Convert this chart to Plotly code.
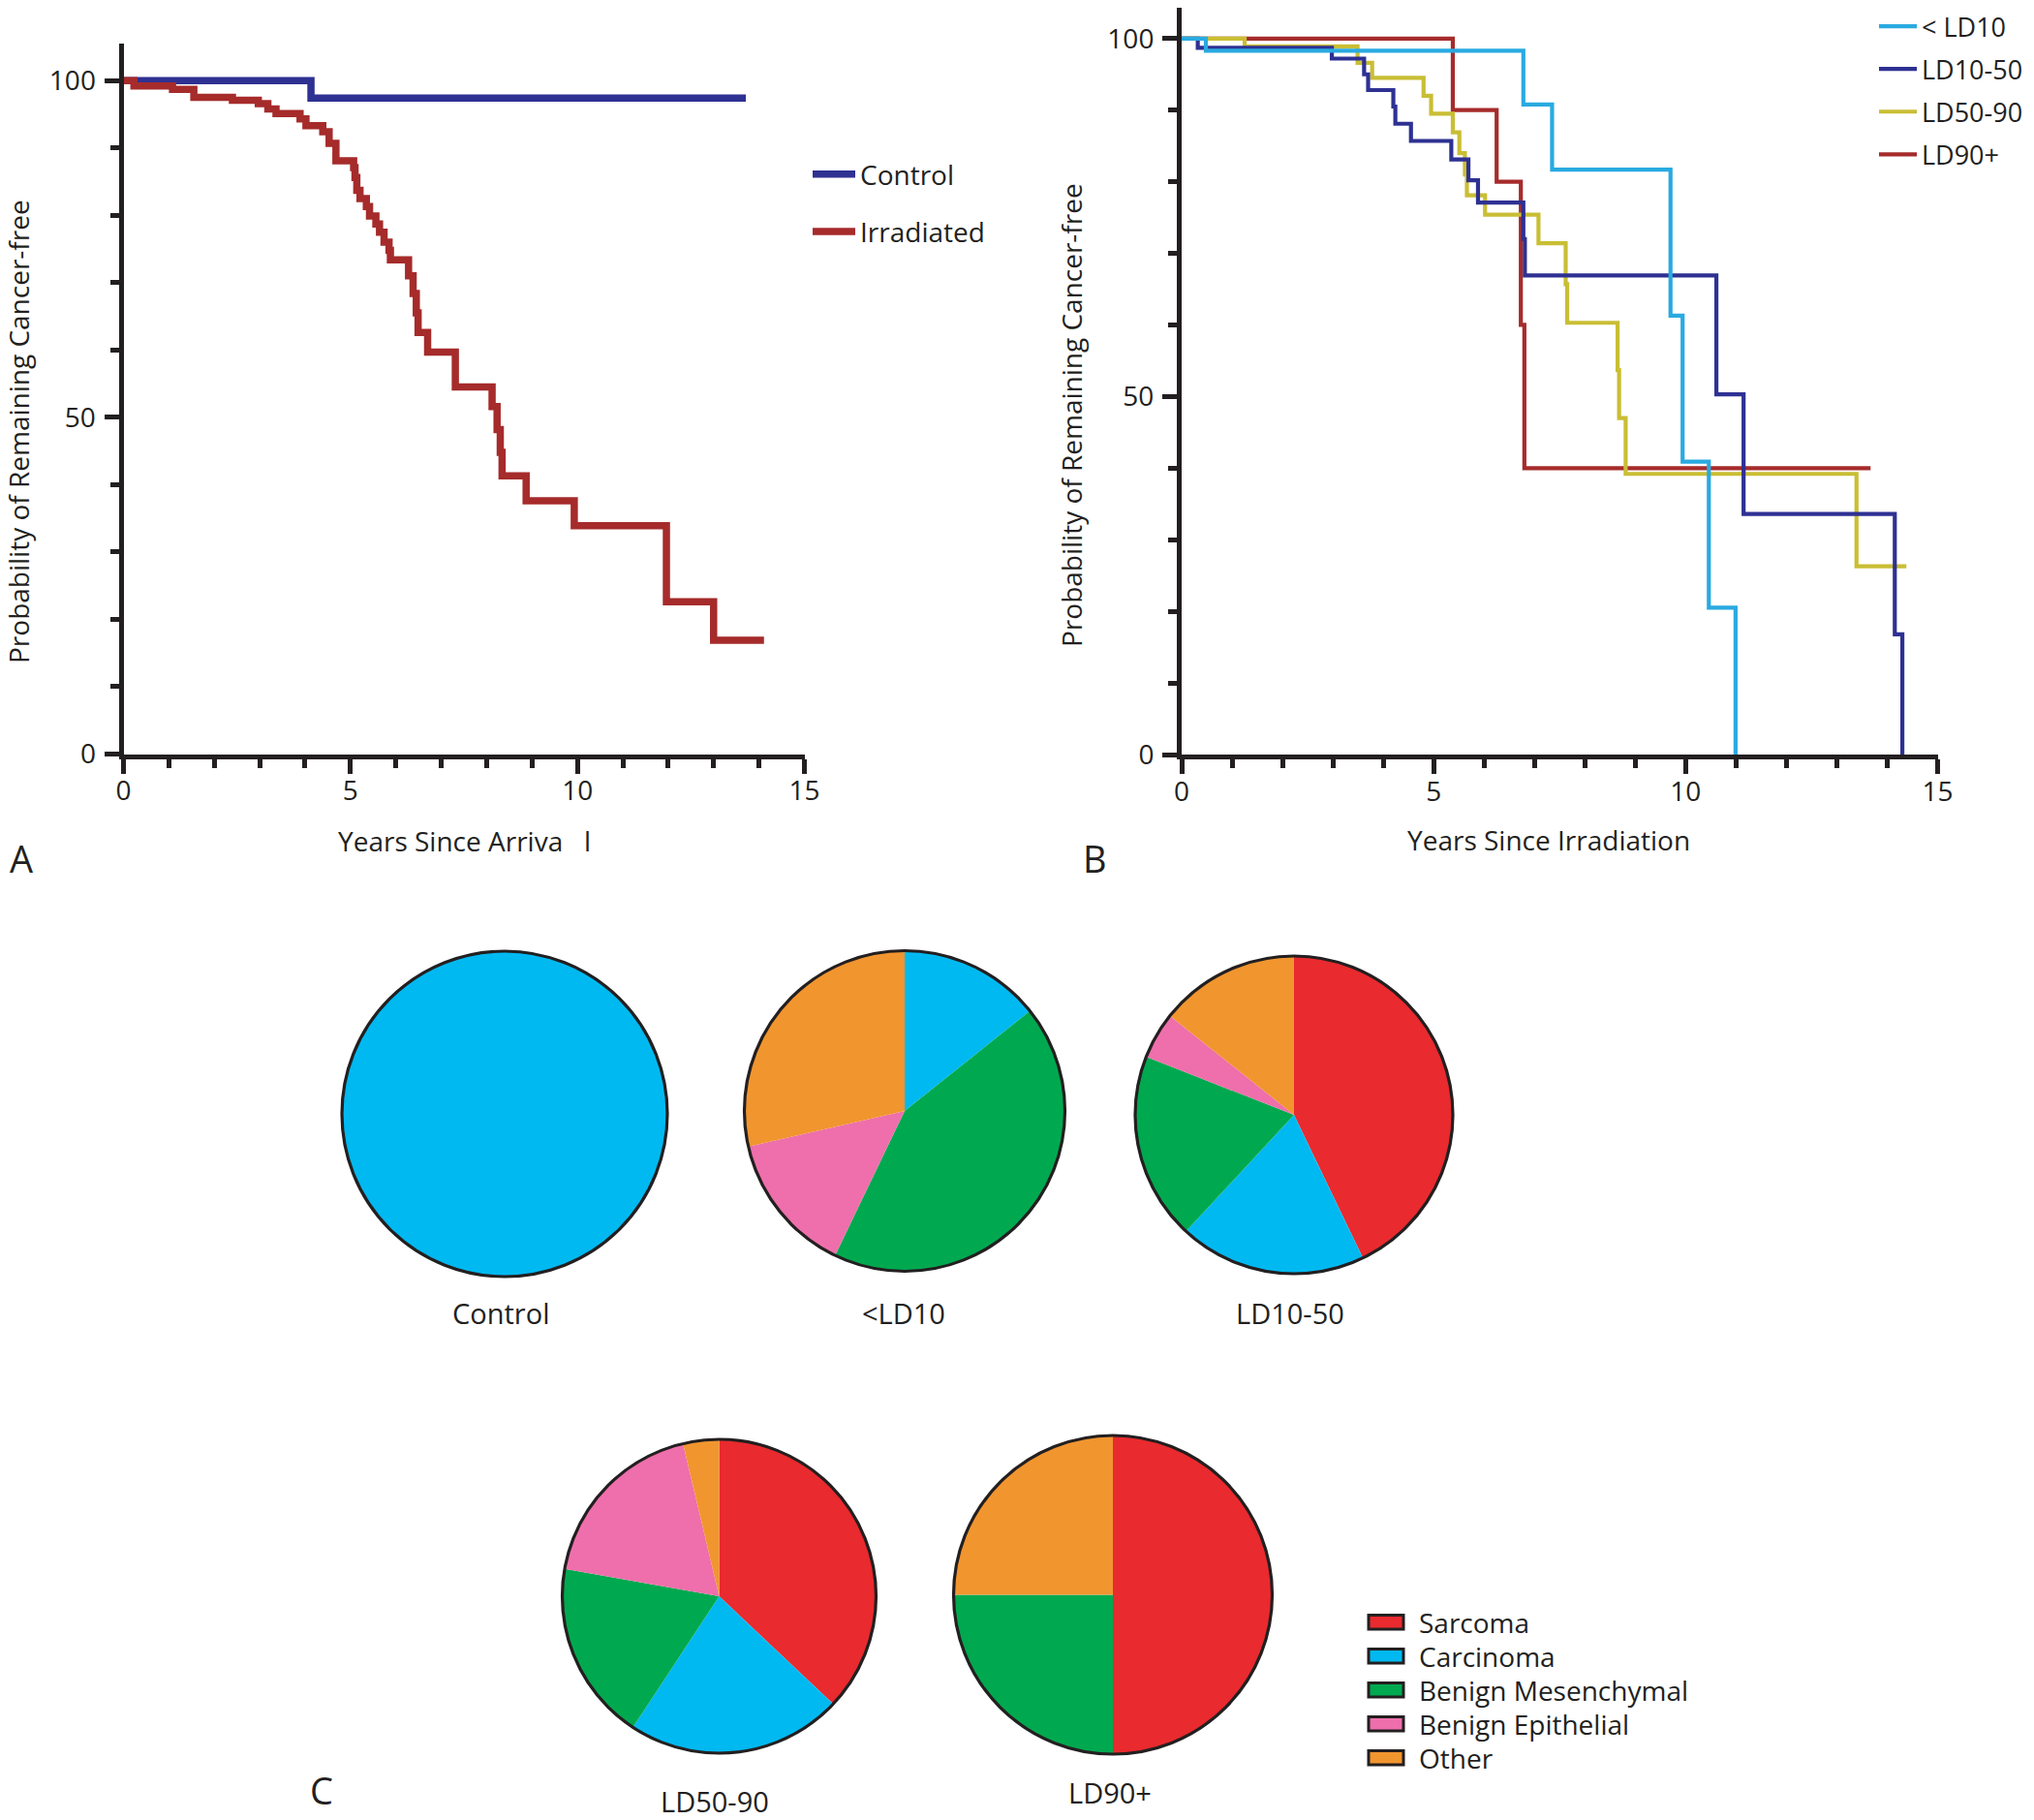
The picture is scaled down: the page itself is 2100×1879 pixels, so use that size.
import plotly.graph_objects as go

W, H = 2100, 1879
OFF = 8  # the page body adds an 8 px margin; compensate positions

# ---------------- data: panel A (Kaplan-Meier, years since arrival) ----------------
control_t = [0, 4.13, 13.71]
control_s = [100, 97.4, 97.4]
irr_t = [0, 0.23, 1.08, 1.55, 2.40, 2.97, 3.18, 3.36, 3.89, 4.02, 4.39, 4.53, 4.68, 5.07,
         5.10, 5.14, 5.21, 5.35, 5.42, 5.56, 5.64, 5.74, 5.85, 5.88, 6.28, 6.38, 6.45, 6.49,
         6.70, 7.31, 8.12, 8.23, 8.30, 8.34, 8.87, 9.93, 11.96, 13.00, 14.11]
irr_s = [100, 99.2, 98.7, 97.5, 97.1, 96.6, 95.8, 95.1, 94.3, 93.3, 92.4, 90.7, 88.1, 87.1,
         85.6, 83.7, 82.5, 81.3, 79.9, 78.7, 77.5, 76.0, 74.8, 73.4, 71.0, 68.4, 65.5, 62.6,
         59.7, 54.5, 51.6, 48.2, 44.8, 41.3, 37.6, 33.9, 22.6, 16.9, 16.9]

# ---------------- data: panel B (years since irradiation) ----------------
ld10_t = [0, 0.48, 6.78, 7.35, 9.70, 9.94, 10.46, 10.99]
ld10_s = [100, 98.3, 90.8, 81.7, 61.3, 40.9, 20.5, 0]
ld1050_t = [0, 0.32, 2.98, 3.62, 3.70, 4.20, 4.24, 4.55, 5.35, 5.69, 5.88, 6.78, 6.81,
            10.61, 11.15, 14.15, 14.30]
ld1050_s = [100, 98.7, 97.2, 95.0, 92.8, 90.5, 88.1, 85.7, 83.1, 80.2, 77.1, 72.0, 66.9,
            50.3, 33.6, 16.8, 0]
ld5090_t = [0, 1.25, 3.49, 3.78, 4.80, 4.95, 5.38, 5.51, 5.62, 5.66, 6.02, 7.08, 7.62, 7.65,
            8.65, 8.68, 8.81, 13.39, 14.38]
ld5090_s = [100, 98.9, 96.6, 94.5, 92.0, 89.5, 86.9, 84.0, 81.0, 78.1, 75.4, 71.4, 65.7, 60.3,
            53.7, 47.0, 39.2, 26.3, 26.3]
ld90_t = [0, 5.38, 6.25, 6.73, 6.80, 13.67]
ld90_s = [100, 90, 80, 60, 40, 40]

# ---------------- data: panel C (tumour types) ----------------
tumor_types = ["Sarcoma", "Carcinoma", "Benign Mesenchymal", "Benign Epithelial", "Other"]
pie_groups = ["Control", "<LD10", "LD10-50", "LD50-90", "LD90+"]
counts_control = [0, 1, 0, 0, 0]
counts_ld10 = [0, 1, 3, 1, 2]
counts_ld1050 = [9, 4, 4, 1, 3]
counts_ld5090 = [10, 6, 5, 5, 1]
counts_ld90 = [2, 0, 1, 0, 1]

# ---------------- styles ----------------
FONT = "Open Sans, Noto Sans, sans-serif"
INK = "#231F20"
tumor_colors = ["#E92A2E", "#00B9F1", "#00A94F", "#EE6FAB", "#F1952F"]
C_DARKBLUE = "#2E3192"
C_DARKRED = "#A62B2B"
C_LIGHTBLUE = "#29AAE1"
C_OLIVE = "#C9BE34"


def px_x(x):
    return (x - OFF) / W


def px_y(y):
    return 1 - (y - OFF) / H


fig = go.Figure()

# Panel A
fig.add_trace(go.Scatter(x=control_t, y=control_s, mode="lines", name="Control",
                         line=dict(color=C_DARKBLUE, width=7.5, shape="hv"),
                         xaxis="x", yaxis="y", legend="legend", legendgroup="a1",
                         legendrank=1))
fig.add_trace(go.Scatter(x=irr_t, y=irr_s, mode="lines", name="Irradiated",
                         line=dict(color=C_DARKRED, width=7.5, shape="hv"),
                         xaxis="x", yaxis="y", legend="legend", legendgroup="a2",
                         legendrank=2))

# Panel B (added bottom-to-top in drawing order; legend order set by legendrank)
for t, s, nm, col, g, rk in [(ld90_t, ld90_s, "LD90+", C_DARKRED, "b4", 4),
                             (ld5090_t, ld5090_s, "LD50-90", C_OLIVE, "b3", 3),
                             (ld1050_t, ld1050_s, "LD10-50", C_DARKBLUE, "b2", 2),
                             (ld10_t, ld10_s, "< LD10", C_LIGHTBLUE, "b1", 1)]:
    fig.add_trace(go.Scatter(x=t, y=s, mode="lines", name=nm,
                             line=dict(color=col, width=4.2, shape="hv"),
                             xaxis="x2", yaxis="y2", legend="legend2", legendgroup=g,
                             legendrank=rk))

# Panel C pies (layout positions: centre x, centre y, radius in px)
pie_layout = [(521, 1150, 168), (934, 1147, 165.5), (1336, 1151, 164),
              (742.5, 1648, 162), (1149, 1646.5, 164.5)]
pie_label_pos = [(516.5, 1355), (933, 1355), (1331.5, 1355), (738, 1859), (1146, 1850)]
all_counts = [counts_control, counts_ld10, counts_ld1050, counts_ld5090, counts_ld90]

for grp, cnt, (cx, cy, r) in zip(pie_groups, all_counts, pie_layout):
    dom = dict(x=[px_x(cx - r), px_x(cx + r)], y=[px_y(cy + r), px_y(cy - r)])
    fig.add_trace(go.Pie(labels=tumor_types, values=cnt, sort=False, direction="clockwise",
                         rotation=0, textinfo="none", showlegend=False, domain=dom,
                         marker=dict(colors=tumor_colors, line=dict(width=0)),
                         name=grp, hoverinfo="label+value"))
    # outer black ring
    fig.add_trace(go.Pie(labels=[grp], values=[1], sort=False, textinfo="none",
                         showlegend=False, domain=dom, hoverinfo="skip",
                         marker=dict(colors=["rgba(0,0,0,0)"], line=dict(width=3.2, color=INK))))

axis_common = dict(showline=True, linewidth=5, linecolor=INK, ticks="outside", tickwidth=4.5,
                   ticklen=15, tickcolor=INK, showgrid=False, zeroline=False,
                   tickfont=dict(family=FONT, size=28, color=INK), fixedrange=True)

xa = dict(axis_common, range=[0, 15], tick0=0, dtick=5, ticklabelstandoff=-6,
          minor=dict(dtick=1, tick0=0, ticks="outside", ticklen=9, tickwidth=4.5, tickcolor=INK))
ya_minor = dict(dtick=10, tick0=0, ticks="outside", ticklen=9, tickwidth=4.5, tickcolor=INK)

annotations = []
# axis titles
for txt, x, y, ang in [("Years Since Arriva\u00a0\u00a0\u00a0l", 479, 868, 0),
                       ("Years Since Irradiation", 1598.5, 867, 0),
                       ("Probability of Remaining Cancer-free", 19, 446, -90),
                       ("Probability of Remaining Cancer-free", 1106, 429, -90)]:
    annotations.append(dict(text=txt, x=px_x(x), y=px_y(y), xref="paper", yref="paper",
                            showarrow=False, textangle=ang, xanchor="center", yanchor="middle",
                            font=dict(family=FONT, size=28, color=INK)))
# panel letters
for txt, x, y in [("A", 22, 886), ("B", 1130, 886), ("C", 332, 1848)]:
    annotations.append(dict(text=txt, x=px_x(x), y=px_y(y), xref="paper", yref="paper",
                            showarrow=False, xanchor="center", yanchor="middle",
                            font=dict(family=FONT, size=38, color=INK)))
# pie labels
for grp, (x, y) in zip(pie_groups, pie_label_pos):
    annotations.append(dict(text=grp.replace("<", "&lt;"), x=px_x(x), y=px_y(y), xref="paper",
                            yref="paper", showarrow=False, xanchor="center", yanchor="middle",
                            font=dict(family=FONT, size=29, color=INK)))

# tumour-type key (swatches + labels)
shapes = []
key_x0, key_x1, key_tx, key_y0, key_dy = 1413, 1449, 1463, 1674.7, 35
for i, (lab, col) in enumerate(zip(tumor_types, tumor_colors)):
    yc = key_y0 + i * key_dy
    shapes.append(dict(type="rect", xref="paper", yref="paper",
                       x0=px_x(key_x0), x1=px_x(key_x1), y0=px_y(yc + 7.3), y1=px_y(yc - 7.3),
                       fillcolor=col, line=dict(color=INK, width=3)))
    annotations.append(dict(text=lab, x=px_x(key_tx), y=px_y(yc), xref="paper", yref="paper",
                            showarrow=False, xanchor="left", yanchor="middle",
                            font=dict(family=FONT, size=28, color=INK)))

fig.update_layout(
    width=W, height=H,
    margin=dict(l=0, r=0, t=0, b=0, autoexpand=False),
    paper_bgcolor="white", plot_bgcolor="white",
    xaxis=dict(xa, domain=[px_x(127.5), px_x(830.5)], anchor="y"),
    yaxis=dict(axis_common, domain=[px_y(778.5), px_y(45)], range=[0, 105.5], tick0=0,
               dtick=50, minor=ya_minor, anchor="x", ticklabelstandoff=3),
    xaxis2=dict(xa, domain=[px_x(1220), px_x(2000.5)], anchor="y2"),
    yaxis2=dict(axis_common, domain=[px_y(779), 1.0], range=[0, 104.3], tick0=0,
                dtick=50, minor=ya_minor, anchor="x2", ticklabelstandoff=3),
    legend=dict(x=px_x(834), y=px_y(155), xanchor="left", yanchor="top",
                font=dict(family=FONT, size=28, color=INK), bgcolor="rgba(0,0,0,0)",
                traceorder="grouped", tracegroupgap=20, itemwidth=44),
    legend2=dict(x=px_x(1935), y=px_y(3), xanchor="left", yanchor="top",
                 font=dict(family=FONT, size=27, color=INK), bgcolor="rgba(0,0,0,0)",
                 traceorder="grouped", tracegroupgap=6, itemwidth=39),
    annotations=annotations,
    shapes=shapes,
    showlegend=True,
)

fig.write_html("out.html")
